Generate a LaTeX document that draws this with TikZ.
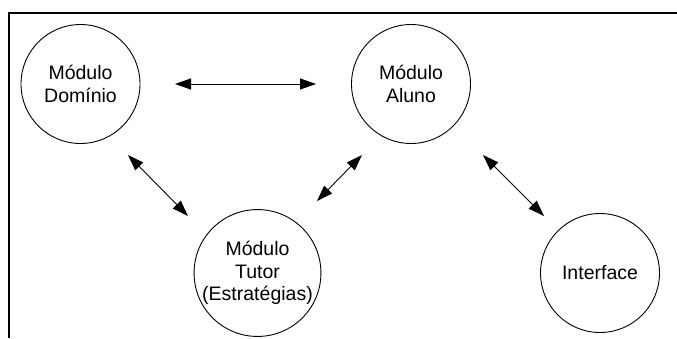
\documentclass[tikz,border=0pt]{standalone}
\usepackage{fontspec}
\setmainfont{Liberation Sans}
\usetikzlibrary{arrows.meta}
\begin{document}
\begin{tikzpicture}[x=1pt,y=-1pt,
  module/.style={draw, circle, line width=0.9pt, minimum size=119pt, inner sep=0pt,
    align=center, font=\fontsize{19.5}{22.7}\selectfont},
  link/.style={line width=0.9pt, {Triangle[length=16pt,width=11pt]}-{Triangle[length=16pt,width=11pt]}}]
  \useasboundingbox (0,0) rectangle (677,338);
  % frame
  \draw[line width=2pt] (677,13) -- (9,13) -- (9,338);
  % modules
  \node[module] (dominio) at (80.5,84) {Módulo\\Domínio};
  \node[module] (aluno) at (411,84) {Módulo\\Aluno};
  \node[module] (tutor) at (257.5,273) {Módulo\\Tutor\\[-1pt](Estratégias)};
  \node[module] (interface) at (600,273) {Interface};
  % connector ends
  \coordinate (dA) at (175,84);
  \coordinate (aD) at (316,84);
  \coordinate (dT) at (128,155);
  \coordinate (tD) at (188,216);
  \coordinate (aT) at (362,155);
  \coordinate (tA) at (317,201);
  \coordinate (aI) at (483,155);
  \coordinate (iA) at (544,216);
  % connectors
  \draw[link] (dA) -- (aD);
  \draw[link] (dT) -- (tD);
  \draw[link] (aT) -- (tA);
  \draw[link] (aI) -- (iA);
\end{tikzpicture}
\end{document}
